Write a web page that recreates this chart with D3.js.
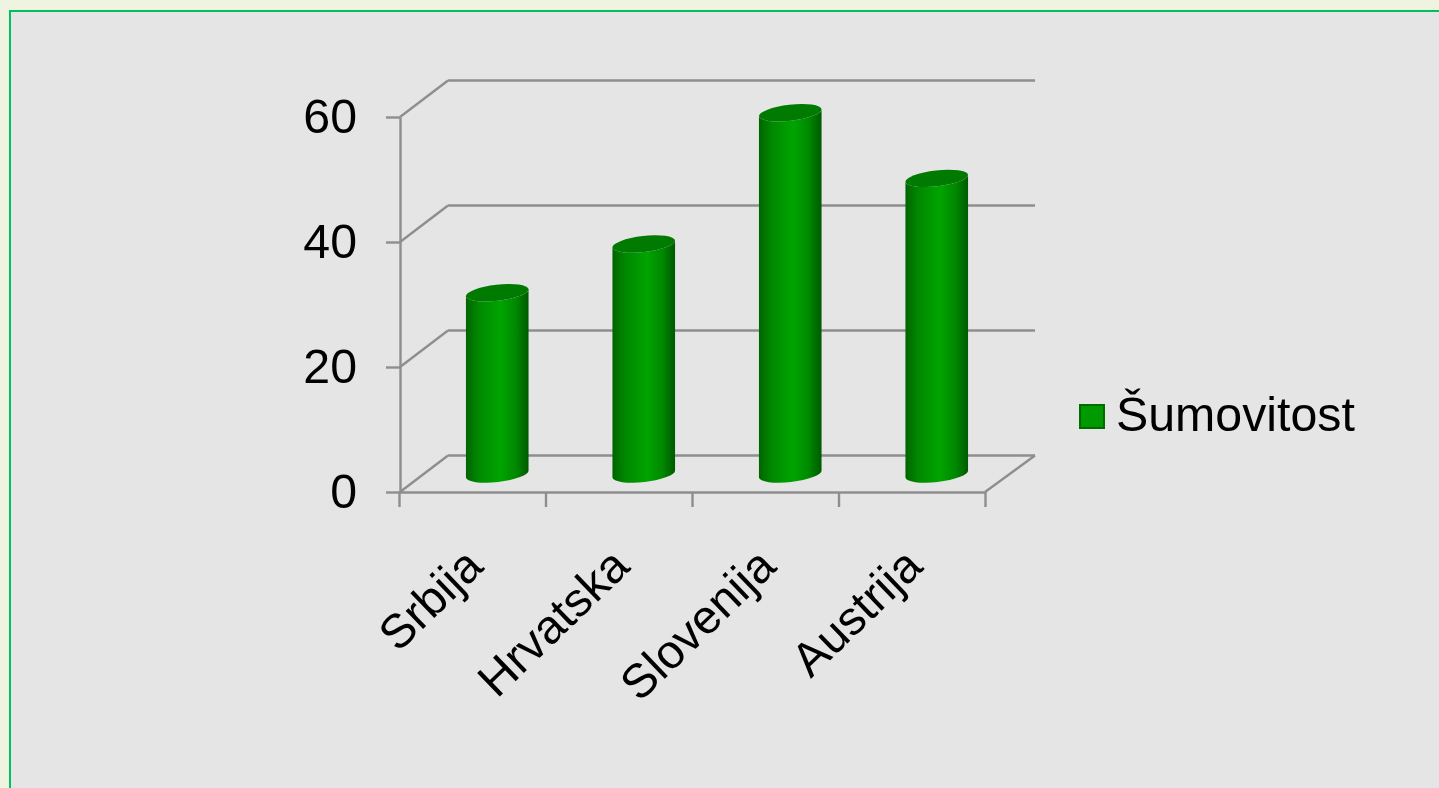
<!DOCTYPE html>
<html>
<head>
<meta charset="utf-8">
<script src="https://cdn.jsdelivr.net/npm/d3@7"></script>
<style>
html, body { margin: 0; padding: 0; background: #eef4df; overflow: hidden; }
text { font-family: "Liberation Sans", Arial, sans-serif; fill: #000; }
</style>
</head>
<body>
<div id="viz"></div>
<script>
const categories = ["Srbija", "Hrvatska", "Slovenija", "Austrija"];
const values = [29, 36.8, 57.8, 47.3];
const yTicks = [0, 20, 40, 60];
const seriesName = "Šumovitost";

const width = 1439;
const height = 788;
const fontSize = "48.3px";

const svg = d3.select("#viz")
    .append("svg")
    .attr("width", width)
    .attr("height", height)
    .style("display", "block");

// gradient for the cylinder body
const defs = svg.append("defs");
const grad = defs.append("linearGradient").attr("id", "body");
[[0, "#006400"], [0.2, "#008800"], [0.55, "#00a400"], [0.8, "#008800"], [1, "#005a00"]].forEach(s => {
    grad.append("stop").attr("offset", s[0]).attr("stop-color", s[1]);
});

// panel
svg.append("rect")
    .attr("x", 10).attr("y", 11)
    .attr("width", width + 20).attr("height", height + 20)
    .attr("fill", "#e5e5e5")
    .attr("stroke", "#00c060")
    .attr("stroke-width", 2);

// the reference is a slightly soft upscaled image
const chart = svg.append("g").style("filter", "blur(0.5px)");

const plot = {left: 399, right: 985, top: 117, bottom: 492};
const depth = {x: 49, y: -36};
const axisColor = "#8e8e8e";

const yScale = d3.scaleLinear().domain([0, 60]).range([plot.bottom, plot.top]);
const xScale = d3.scaleBand().domain(categories).range([plot.left, plot.right]);
const xEdges = d3.scaleLinear().domain([0, categories.length]).range([plot.left, plot.right]);

// back wall grid and the diagonals going to it
const grid = chart.append("g").attr("stroke", axisColor).attr("stroke-width", 2.4).attr("fill", "none");
grid.selectAll(".back").data(yTicks).enter().append("line")
    .attr("x1", plot.left + depth.x)
    .attr("x2", plot.right + depth.x + 1)
    .attr("y1", d => yScale(d) + depth.y - 0.5)
    .attr("y2", d => yScale(d) + depth.y - 0.5);
grid.selectAll(".diag").data(yTicks).enter().append("line")
    .attr("x1", plot.left + 1)
    .attr("x2", plot.left + depth.x)
    .attr("y1", d => yScale(d))
    .attr("y2", d => yScale(d) + depth.y - 0.5);
// right edge of the floor
grid.append("line")
    .attr("x1", plot.right).attr("y1", plot.bottom)
    .attr("x2", plot.right + depth.x + 1).attr("y2", plot.bottom + depth.y - 0.5);

// axes
const yAxis = chart.append("g")
    .attr("transform", `translate(${plot.left + 1}, 0)`)
    .call(d3.axisLeft(yScale).tickValues(yTicks).tickSize(14).tickSizeOuter(0).tickPadding(29));
yAxis.selectAll("text").style("font-size", fontSize).attr("dy", "0.32em");

const xTickAxis = chart.append("g")
    .attr("transform", `translate(0, ${plot.bottom})`)
    .call(d3.axisBottom(xEdges).ticks(categories.length).tickSize(15).tickSizeOuter(0).tickFormat(""));

const xLabels = chart.append("g")
    .attr("transform", `translate(0, ${plot.bottom})`)
    .call(d3.axisBottom(xScale).tickSize(0).tickFormat(d => d));
xLabels.select(".domain").remove();
xLabels.selectAll("text")
    .style("font-size", "47.5px")
    .attr("text-anchor", "end")
    .attr("dy", 0)
    .attr("y", 0)
    .attr("transform", "translate(13, 77) rotate(-44)");

[yAxis, xTickAxis].forEach(a => {
    a.selectAll("line, path").attr("stroke", axisColor).attr("stroke-width", 2.4);
});

// cylinders
const barShift = 25;
const baseLift = 18;
const rx = 31.5;
const ry = 8;
const tilt = 6.5;
const tiltRad = tilt * Math.PI / 180;
const cx = d => xScale(d) + xScale.bandwidth() / 2 + barShift;

const bodyPath = (x, yTop, yBase) => {
    const dx = rx * Math.cos(tiltRad);
    const dy = rx * Math.sin(tiltRad);
    return `M${x - dx},${yTop + dy}L${x - dx},${yBase + dy}` +
        `A${rx},${ry} ${-tilt} 0 0 ${x + dx},${yBase - dy}` +
        `L${x + dx},${yTop - dy}` +
        `A${rx},${ry} ${-tilt} 0 1 ${x - dx},${yTop + dy}Z`;
};

const bars = chart.selectAll(".bar").data(categories).enter().append("g").attr("class", "bar");
bars.append("path")
    .attr("d", (d, i) => bodyPath(cx(d), yScale(values[i]) - baseLift, yScale(0) - baseLift))
    .attr("fill", "url(#body)");
bars.append("ellipse")
    .attr("rx", rx).attr("ry", ry)
    .attr("transform", (d, i) => `translate(${cx(d)}, ${yScale(values[i]) - baseLift}) rotate(${-tilt})`)
    .attr("fill", "#007a00");

// legend
const legend = chart.append("g").attr("transform", "translate(1080, 405)");
legend.append("rect")
    .attr("width", 24).attr("height", 23)
    .attr("fill", "#009a00")
    .attr("stroke", "#006c00")
    .attr("stroke-width", 2);
legend.append("text")
    .attr("x", 36).attr("y", 26)
    .style("font-size", fontSize)
    .text(seriesName);
</script>
</body>
</html>
